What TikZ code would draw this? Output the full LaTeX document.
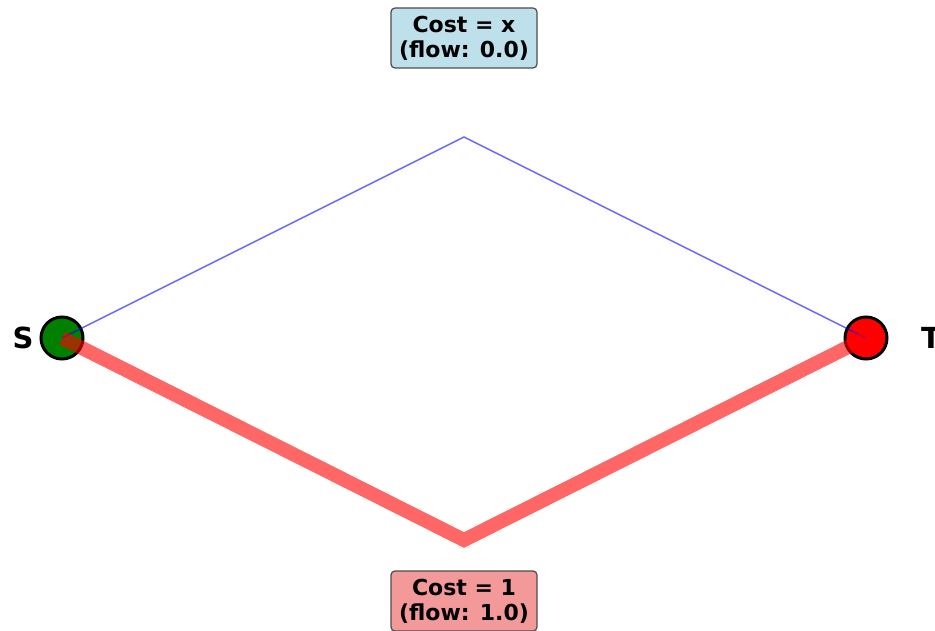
\documentclass[tikz,border=0pt]{standalone}
\usepackage{fontspec}
\setmainfont{DejaVu Sans}
\begin{document}
\begin{tikzpicture}[x=1pt,y=-1pt,
  vertex/.style={circle,draw=black,line width=3pt,minimum size=42pt,inner sep=0pt},
  lbl/.style={font=\bfseries\fontsize{29}{32}\selectfont},
  costbox/.style={draw=black!70,line width=1.2pt,rounded corners=4pt,align=center,
    font=\bfseries\fontsize{22}{25}\selectfont,inner sep=3pt,minimum width=146pt,minimum height=60pt},
  unused/.style={draw=blue,opacity=0.6,line width=1.5pt},
  used/.style={draw=red,opacity=0.6,line width=14pt}]
\useasboundingbox (0,0) rectangle (935,631);
\node[vertex,fill=green!50!black] (s) at (62,338) {};
\node[vertex,fill=red] (t) at (866,338) {};
\coordinate (top) at (464,137);
\coordinate (bot) at (464,540);
\draw[unused] (s.center) -- (top) -- (t.center);
\draw[used] (s.center) -- (bot) -- (t.center);
\node[lbl] (sl) at (23,338) {S};
\node[lbl] (tl) at (931,338) {T};
\node[costbox,fill={rgb,255:red,189;green,224;blue,235}] (cx) at (464,38) {Cost = x\\(flow: 0.0)};
\node[costbox,fill={rgb,255:red,243;green,153;blue,153}] (c1) at (464,601) {Cost = 1\\(flow: 1.0)};
\end{tikzpicture}
\end{document}
